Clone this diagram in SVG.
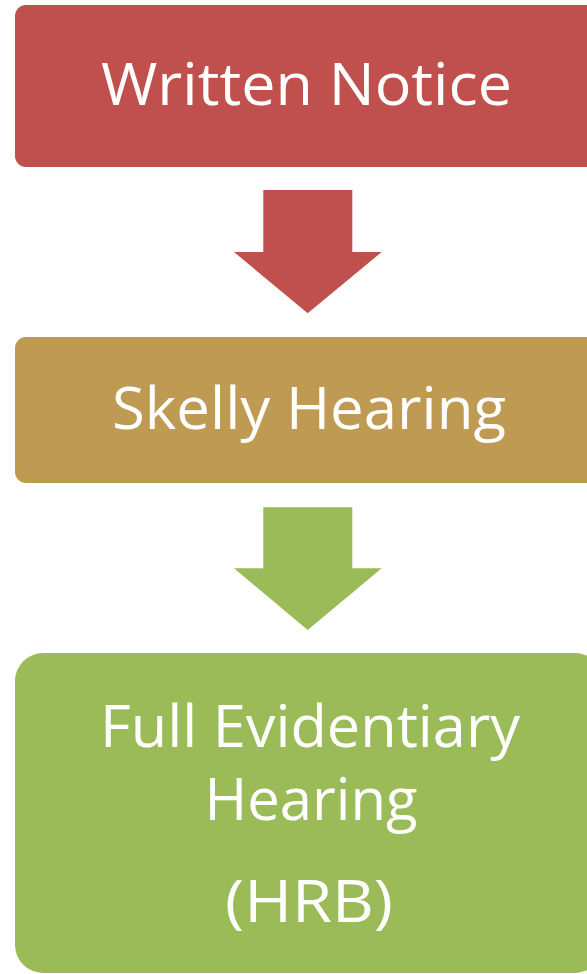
<svg xmlns="http://www.w3.org/2000/svg" width="587" height="974" viewBox="0 0 587 974">
<style>
.lbl{font-family:"Open Sans","Liberation Sans",sans-serif;font-size:59px;fill:#FFFFFF;text-anchor:middle}
</style>
<rect width="587" height="974" fill="#FFFFFF"/>
<g id="node-written-notice">
<rect x="15" y="5" width="588" height="162" rx="11" fill="#C0504D"/>
<text class="lbl" x="306.5" y="105" textLength="411" lengthAdjust="spacingAndGlyphs">Written Notice</text>
</g>
<g id="node-skelly-hearing">
<rect x="15" y="337" width="588" height="146" rx="11" fill="#BE9A53"/>
<text class="lbl" x="309" y="429" textLength="394" lengthAdjust="spacingAndGlyphs">Skelly Hearing</text>
</g>
<g id="node-full-evidentiary-hearing">
<rect x="15" y="653" width="588" height="320" rx="28" fill="#9BBB59"/>
<text class="lbl" x="310" y="747" textLength="420" lengthAdjust="spacingAndGlyphs">Full Evidentiary</text>
<text class="lbl" x="311" y="820" textLength="213" lengthAdjust="spacingAndGlyphs">Hearing</text>
<text class="lbl" x="309" y="922" textLength="168" lengthAdjust="spacingAndGlyphs">(HRB)</text>
</g>
<g id="connectors">
<polygon points="263.3,190 352.3,190 352.3,252 381.7,252 307.7,313.3 234,252 263.3,252" fill="#C0504D"/>
<polygon points="263.3,507.3 352.3,507.3 352.3,568.3 381.7,568.3 307.7,630 234,568.3 263.3,568.3" fill="#9BBB59"/>
</g>
</svg>
